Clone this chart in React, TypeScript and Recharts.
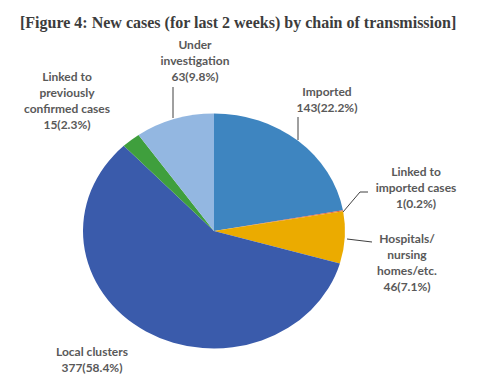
// @ts-nocheck
import { PieChart, Pie, Cell } from 'recharts';

const categories = [
  'Imported',
  'Linked to imported cases',
  'Hospitals/nursing homes/etc.',
  'Local clusters',
  'Linked to previously confirmed cases',
  'Under investigation',
];
const labelText = [
  ['Imported'],
  ['Linked to', 'imported cases'],
  ['Hospitals/', 'nursing', 'homes/etc.'],
  ['Local clusters'],
  ['Linked to', 'previously', 'confirmed cases'],
  ['Under', 'investigation'],
];
const cases = [143, 1, 46, 377, 15, 63];
const colors = ['#3E85C0', '#E0603A', '#EBAB00', '#3A5BAB', '#3F9F3D', '#93B7E1'];

// hand placed like the original (x centre, first baseline, leader line)
const labelPos = [
  { x: 327, y: 96, leader: [[298, 117], [298, 140]] },
  { x: 416, y: 176, leader: [[343, 212], [360, 192], [368, 192]] },
  { x: 407, y: 243, leader: [[347, 239], [372, 242]] },
  { x: 92, y: 356, leader: null },
  { x: 67, y: 81, leader: null },
  { x: 195, y: 49, leader: [[173, 87], [173, 118]] },
];

const total = cases.reduce((a, b) => a + b, 0);
const data = categories.map((name, i) => ({ name, value: cases[i] }));

// the source pie is stretched sideways, so draw each sector on an ellipse
const STRETCH = 131 / 117.5;
function EllipseSector(props) {
  const { cx, cy, outerRadius, startAngle, endAngle, fill } = props;
  const rx = outerRadius * STRETCH;
  const ry = outerRadius;
  const r = Math.PI / 180;
  const x0 = cx + rx * Math.cos(startAngle * r);
  const y0 = cy - ry * Math.sin(startAngle * r);
  const x1 = cx + rx * Math.cos(endAngle * r);
  const y1 = cy - ry * Math.sin(endAngle * r);
  const large = Math.abs(endAngle - startAngle) > 180 ? 1 : 0;
  const sweep = endAngle < startAngle ? 1 : 0;
  return (
    <path
      d={`M${cx},${cy}L${x0},${y0}A${rx},${ry} 0 ${large} ${sweep} ${x1},${y1}Z`}
      fill={fill}
      stroke="none"
    />
  );
}

function renderLabel(props) {
  const i = props.index;
  const pos = labelPos[i];
  const lines = [...labelText[i], `${cases[i]}(${((cases[i] / total) * 100).toFixed(1)}%)`];
  return (
    <g key={`lbl-${i}`}>
      {pos.leader && (
        <polyline
          points={pos.leader.map((p) => p.join(',')).join(' ')}
          fill="none"
          stroke="#404040"
          strokeWidth={1}
        />
      )}
      <text
        x={pos.x}
        y={pos.y}
        textAnchor="middle"
        fill="#595959"
        fontFamily="Lato, 'Open Sans', sans-serif"
        fontWeight="bold"
        fontSize={12}
      >
        {lines.map((t, k) => (
          <tspan key={k} x={pos.x} dy={k === 0 ? 0 : 16}>
            {t}
          </tspan>
        ))}
      </text>
    </g>
  );
}

export default function App() {
  return (
    <div style={{ position: 'absolute', left: 0, top: 0, width: 486, height: 386, background: '#fff' }}>
      <div
        style={{
          position: 'absolute',
          left: 20,
          top: 14,
          fontFamily: "'Liberation Serif', 'DejaVu Serif', serif",
          fontWeight: 'bold',
          fontSize: 16,
          lineHeight: '18px',
          color: '#3c3c3c',
          whiteSpace: 'nowrap',
        }}
      >
        [Figure 4: New cases (for last 2 weeks) by chain of transmission]
      </div>
      <PieChart
        width={486}
        height={386}
        margin={{ top: 0, right: 0, bottom: 0, left: 0 }}
        style={{ position: 'absolute', left: 0, top: 0 }}
      >
        <Pie
          data={data}
          dataKey="value"
          nameKey="name"
          cx={214}
          cy={231}
          outerRadius={117.5}
          startAngle={90}
          endAngle={-270}
          stroke="none"
          shape={EllipseSector}
          label={renderLabel}
          labelLine={false}
          isAnimationActive={false}
        >
          {data.map((d, i) => (
            <Cell key={d.name} fill={colors[i]} />
          ))}
        </Pie>
      </PieChart>
    </div>
  );
}
